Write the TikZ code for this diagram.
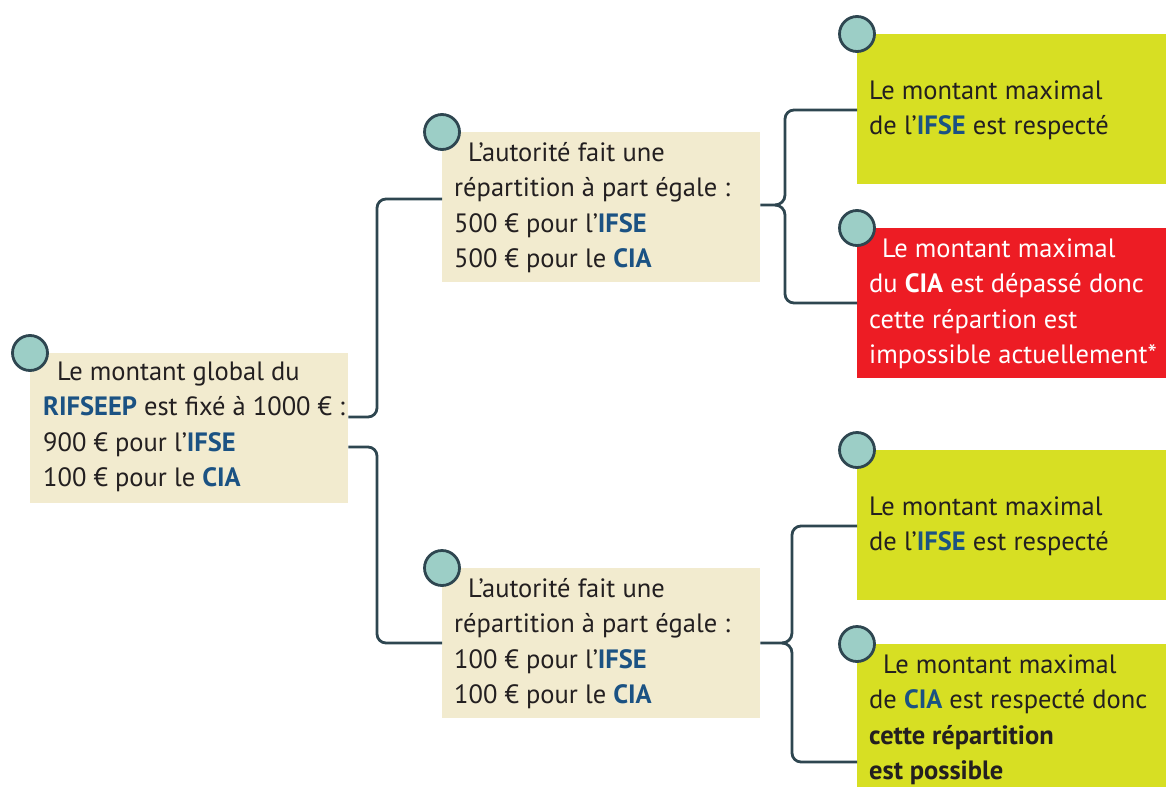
\documentclass[tikz,border=0pt]{standalone}
\usepackage{fontspec}
\setmainfont{PT Sans}
\definecolor{beige}{HTML}{F2EBCF}
\definecolor{lime}{HTML}{D7DF23}
\definecolor{redbox}{HTML}{ED1C24}
\definecolor{tealdot}{HTML}{9CCEC6}
\definecolor{slate}{HTML}{2E4650}
\definecolor{blu}{HTML}{1B5283}
\definecolor{ink}{HTML}{231F20}
\newcommand{\bl}[1]{\textbf{\textcolor{blu}{#1}}}
\begin{document}
\begin{tikzpicture}[x=1pt,y=-1pt,
 box/.style={draw=none, inner sep=0pt, anchor=north west},
 txt/.style={anchor=base west, align=left, inner sep=0pt, font=\fontsize{26.5}{35.5}\selectfont, text=ink},
 dot/.style={circle, fill=tealdot, draw=slate, line width=2.8pt, minimum size=35pt, inner sep=0pt},
 conn/.style={draw=slate, line width=2.8pt}]
\useasboundingbox (0,0) rectangle (1166,787);
% boxes
\node[box, fill=beige, minimum width=318pt, minimum height=150pt] (root) at (30,353) {};
\node[box, fill=beige, minimum width=318pt, minimum height=150pt] (m1) at (442,132) {};
\node[box, fill=beige, minimum width=318pt, minimum height=150pt] (m2) at (442,568) {};
\node[box, fill=lime, minimum width=309pt, minimum height=150pt] (a) at (857,34) {};
\node[box, fill=redbox, minimum width=309pt, minimum height=150pt] (b) at (857,228) {};
\node[box, fill=lime, minimum width=309pt, minimum height=150pt] (c) at (857,450) {};
\node[box, fill=lime, minimum width=309pt, minimum height=143pt] (d) at (857,644) {};
% connectors
\draw[conn, rounded corners=9pt] (root.east |- 0,417) -- (377,417) -- (377,199) -- (m1.west |- 0,199);
\draw[conn, rounded corners=9pt] (root.east |- 0,447) -- (377,447) -- (377,643) -- (m2.west |- 0,643);
\draw[conn] (m1.east |- 0,205) -- (775,205) to[out=0,in=-90] (785,195) [rounded corners=9pt] -- (785,110) -- (a.west |- 0,110);
\draw[conn] (775,205) to[out=0,in=90] (785,215) [rounded corners=9pt] -- (785,303) -- (b.west |- 0,303);
\draw[conn] (m2.east |- 0,643) -- (782,643) to[out=0,in=-90] (792,633) [rounded corners=9pt] -- (792,526) -- (c.west |- 0,526);
\draw[conn] (782,643) to[out=0,in=90] (792,653) [rounded corners=9pt] -- (792,762) -- (d.west |- 0,762);
% dots
\node[dot] (rootdot) at (root.north west) {};
\node[dot] (m1dot) at (m1.north west) {};
\node[dot] (m2dot) at (m2.north west) {};
\node[dot] (adot) at (a.north west) {};
\node[dot] (bdot) at (b.north west) {};
\node[dot] (cdot) at (c.north west) {};
\node[dot] (ddot) at (d.north west) {};
% texts (anchor = baseline of last line)
\node[txt] (roott) at (43,486.5) {\hspace{14pt}Le montant global du\\ \bl{RIFSEEP} est fixé à 1000 € :\\ 900 € pour l’\bl{IFSE}\\ 100 € pour le \bl{CIA}};
\node[txt] (m1t) at (454,267.5) {\hspace{14pt}L’autorité fait une\\ répartition à part égale :\\ 500 € pour l’\bl{IFSE}\\ 500 € pour le \bl{CIA}};
\node[txt] (m2t) at (454,703.5) {\hspace{14pt}L’autorité fait une\\ répartition à part égale :\\ 100 € pour l’\bl{IFSE}\\ 100 € pour le \bl{CIA}};
\node[txt] (at) at (869,134.5) {Le montant maximal\\ de l’\bl{IFSE} est respecté};
\node[txt, text=white] (bt) at (869,363.5) {\hspace{13pt}Le montant maximal\\ du \textbf{CIA} est dépassé donc\\ cette répartion est\\ impossible actuellement*};
\node[txt] (ct) at (869,550.5) {Le montant maximal\\ de l’\bl{IFSE} est respecté};
\node[txt] (dt) at (869,779.5) {\hspace{14pt}Le montant maximal\\ de \bl{CIA} est respecté donc\\ \textbf{cette répartition}\\ \textbf{est possible}};
\end{tikzpicture}
\end{document}
